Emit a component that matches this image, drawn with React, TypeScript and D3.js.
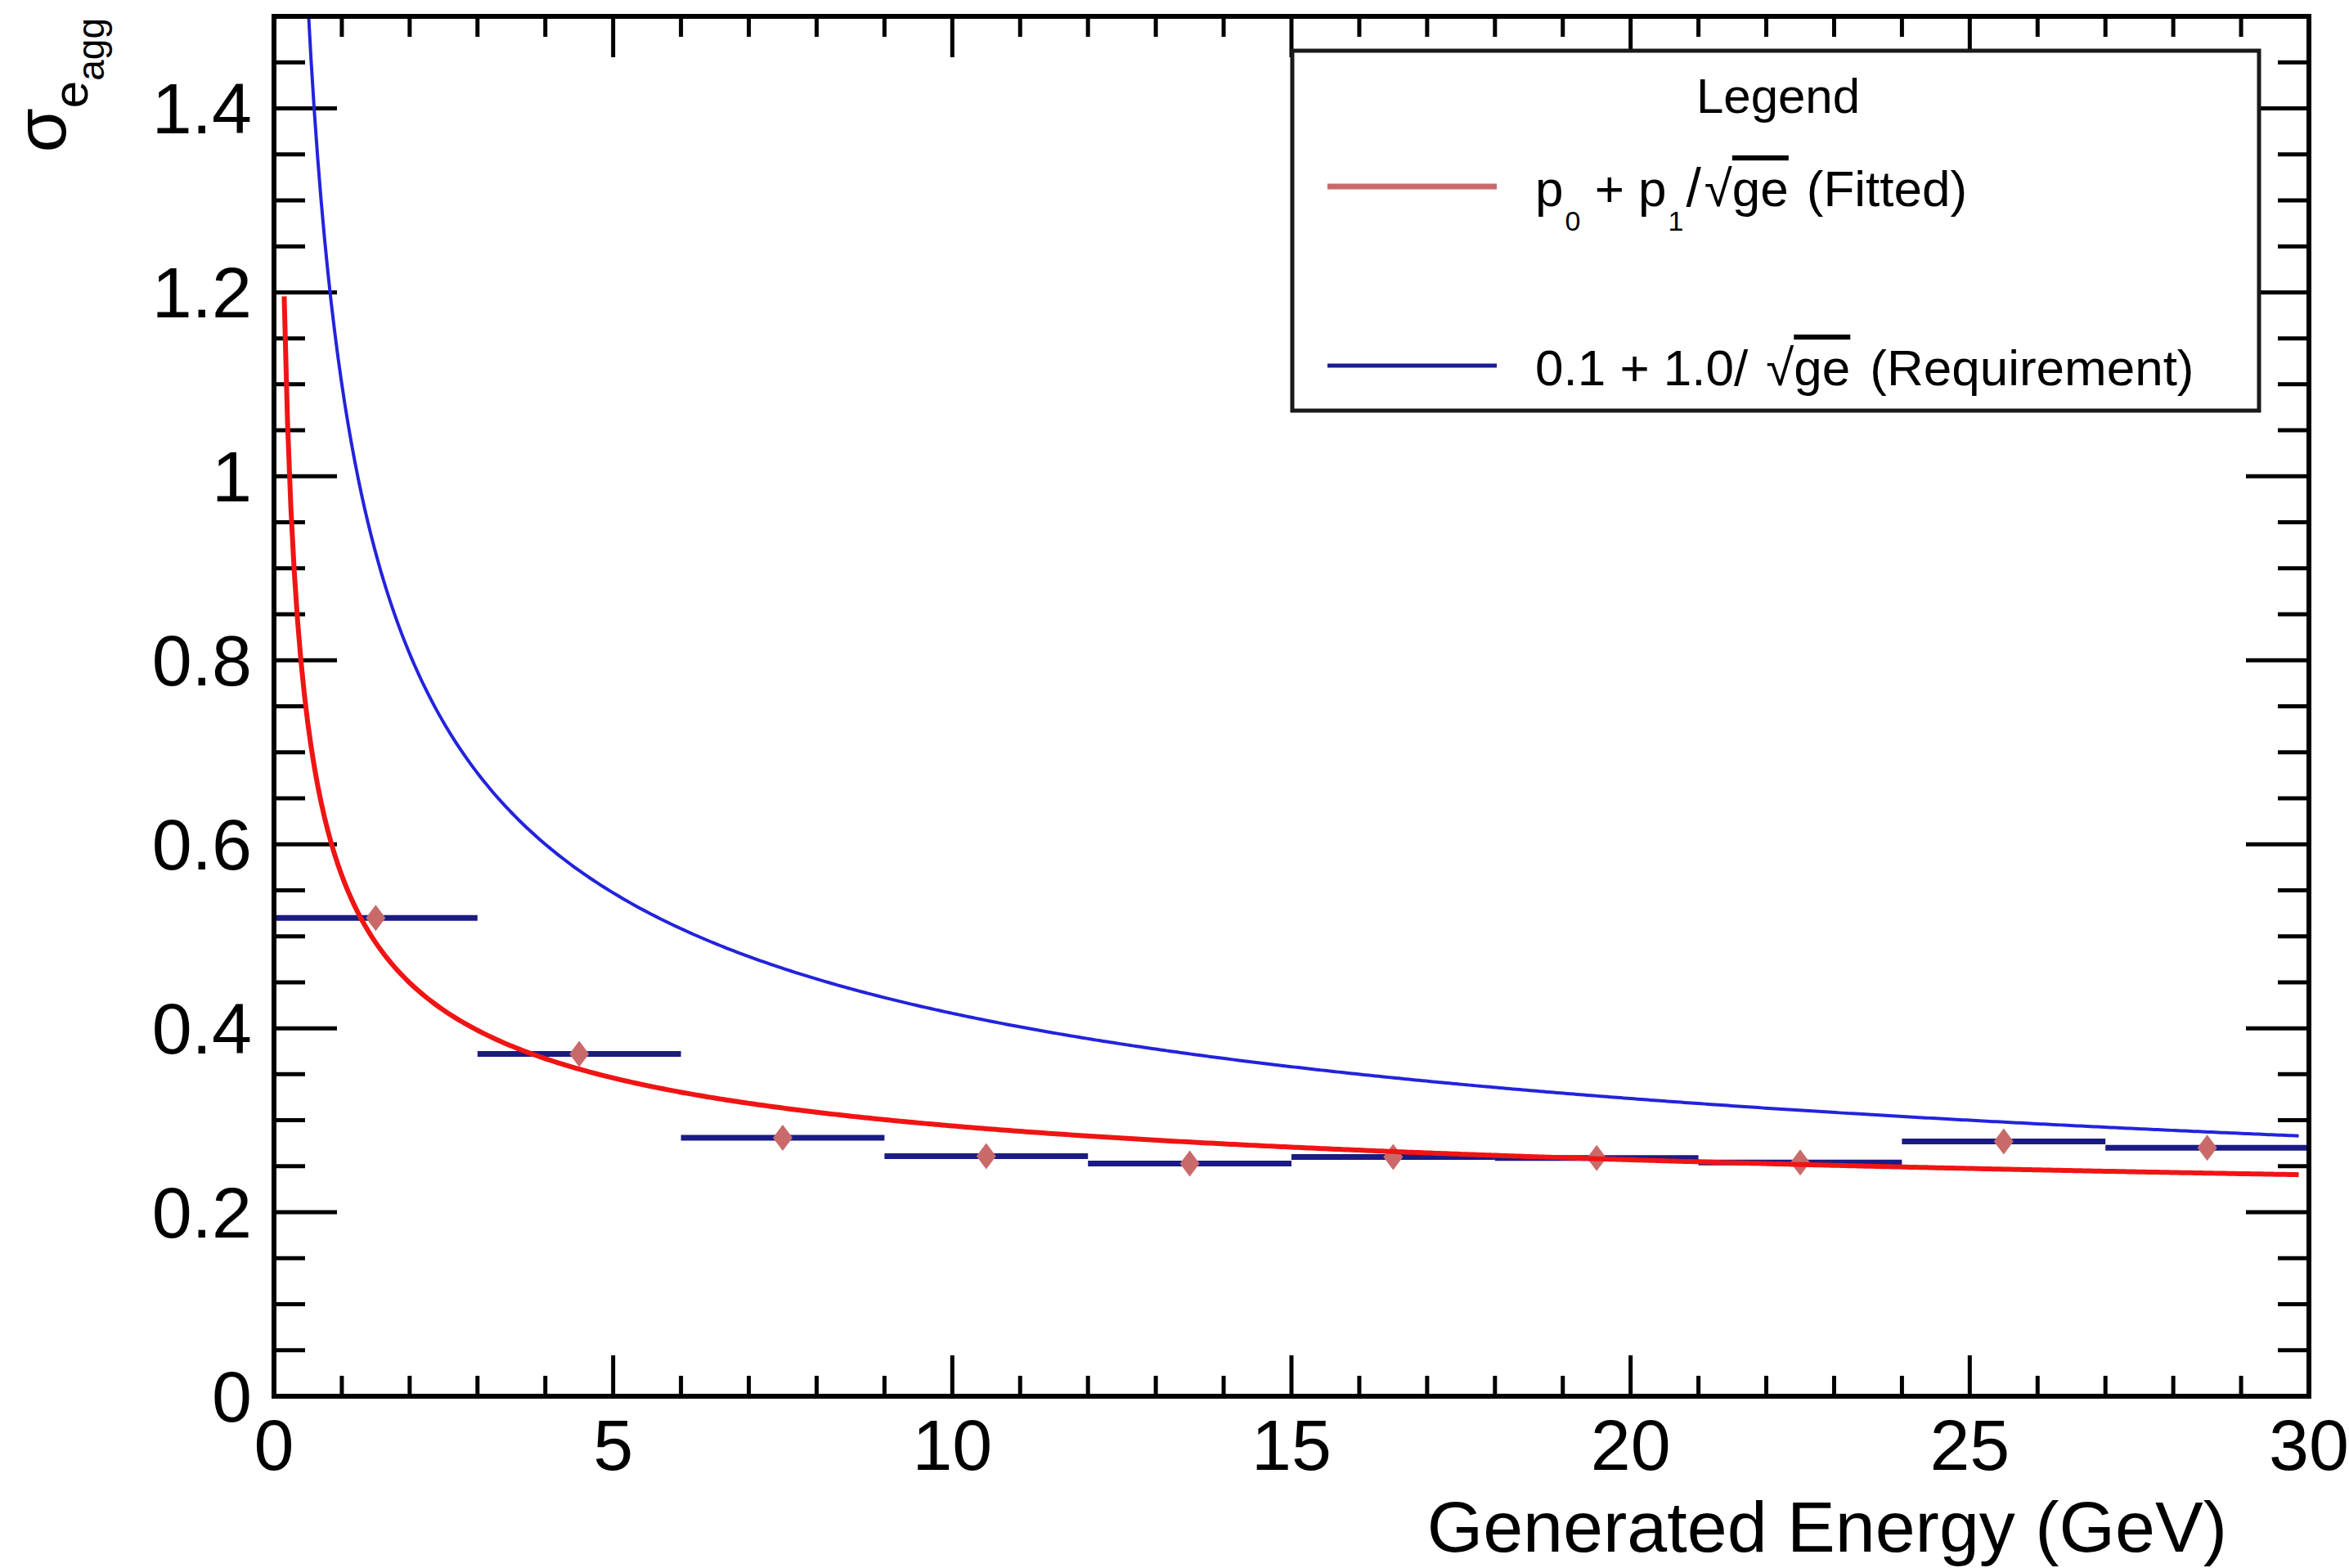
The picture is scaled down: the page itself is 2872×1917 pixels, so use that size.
import * as d3 from "d3";

// histogram bins (GeV) and measured resolution
const binLow = [0, 3, 6, 9, 12, 15, 18, 21, 24, 27];
const binHigh = [3, 6, 9, 12, 15, 18, 21, 24, 27, 30];
const sigmaValues = [0.52, 0.372, 0.281, 0.261, 0.253, 0.26, 0.259, 0.254, 0.277, 0.27];

const xTickLabels = ["0", "5", "10", "15", "20", "25", "30"];
const yTickLabels = ["0", "0.2", "0.4", "0.6", "0.8", "1", "1.2", "1.4"];

// p0 + p1/sqrt(ge)
const fitParams = [0.168, 0.398];
const reqParams = [0.1, 1.0];
const curveRange = [0.15, 29.85];

const W = 2872;
const H = 1917;
const FONT = "'Liberation Sans', Arial, Helvetica, sans-serif";

const x = d3.scaleLinear().domain([0, 30]).range([335, 2823]);
const y = d3.scaleLinear().domain([0, 1.5]).range([1707, 20]);

const [x0, x1] = x.range();
const [y0, y1] = y.range();

const sampleXs = d3.range(0, 601).map((i) => curveRange[0] + ((curveRange[1] - curveRange[0]) * i) / 600);
const curve = (p: number[]) =>
	d3
		.line<number>()
		.x((d) => x(d))
		.y((d) => y(p[0] + p[1] / Math.sqrt(d)))(sampleXs) || "";

const App = () => {
	const minorX = x.ticks(30);
	const minorY = y.ticks(30);
	const majorYLen = 77;
	const minorYLen = 38;
	const majorXLen = 50;
	const minorXLen = 25;
	const isMajorX = (v: number) => Math.abs(v % 5) < 1e-6;
	const isMajorY = (v: number) => Math.abs(Math.round(v * 100) % 20) < 1e-6;

	return (
		<svg
			width={W}
			height={H}
			style={{position: "absolute", left: 0, top: 0, background: "#fff", display: "block"}}
			fontFamily={FONT}
		>
			<defs>
				<clipPath id="plotClip">
					<rect x={x0} y={y1} width={x1 - x0} height={y0 - y1} />
				</clipPath>
			</defs>
			<rect width={W} height={H} fill="#fff" />

			{/* ticks: bottom/top and left/right */}
			<g stroke="#000" strokeWidth={5}>
				{minorX.map((v) => {
					const len = isMajorX(v) ? majorXLen : minorXLen;
					return (
						<g key={"xt" + v}>
							<line x1={x(v)} x2={x(v)} y1={y0} y2={y0 - len} />
							<line x1={x(v)} x2={x(v)} y1={y1} y2={y1 + len} />
						</g>
					);
				})}
				{minorY.map((v) => {
					const len = isMajorY(v) ? majorYLen : minorYLen;
					return (
						<g key={"yt" + v}>
							<line x1={x0} x2={x0 + len} y1={y(v)} y2={y(v)} />
							<line x1={x1} x2={x1 - len} y1={y(v)} y2={y(v)} />
						</g>
					);
				})}
			</g>

			{/* histogram points: x error bars + diamonds */}
			<g stroke="#1b1b85" strokeWidth={7}>
				{sigmaValues.map((v, i) => (
					<line key={"eb" + i} x1={x(binLow[i])} x2={x(binHigh[i])} y1={y(v)} y2={y(v)} />
				))}
			</g>
			<g fill="#c96a6a">
				{sigmaValues.map((v, i) => {
					const cx = x((binLow[i] + binHigh[i]) / 2);
					const cy = y(v);
					return (
						<path
							key={"mk" + i}
							d={`M${cx},${cy - 16}L${cx + 12},${cy}L${cx},${cy + 16}L${cx - 12},${cy}Z`}
						/>
					);
				})}
			</g>

			{/* fitted and requirement curves */}
			<g clipPath="url(#plotClip)" fill="none">
				<path d={curve(fitParams)} stroke="#f01414" strokeWidth={6} />
				<path d={curve(reqParams)} stroke="#2323dc" strokeWidth={4} />
			</g>

			{/* frame */}
			<rect x={x0} y={y1} width={x1 - x0} height={y0 - y1} fill="none" stroke="#000" strokeWidth={6} />

			{/* tick labels */}
			<g fontSize={88} fill="#000">
				{yTickLabels.map((t) => (
					<text key={"yl" + t} x={x0 - 27} y={y(+t)} dy="0.35em" textAnchor="end">
						{t}
					</text>
				))}
				{xTickLabels.map((t) => (
					<text key={"xl" + t} x={x(+t)} y={1797} textAnchor="middle">
						{t}
					</text>
				))}
			</g>

			{/* axis titles */}
			<text x={2723} y={1897} fontSize={88} textAnchor="end">
				Generated Energy (GeV)
			</text>
			<text transform="translate(80,22) rotate(-90)" fontSize={88} textAnchor="end">
				σ
				<tspan fontSize={60} dy={27}>
					e
				</tspan>
				<tspan fontSize={46} dy={20}>
					agg
				</tspan>
			</text>

			{/* legend */}
			<g>
				<rect x={1580} y={62} width={1182} height={440} fill="#fff" stroke="#1a1a1a" strokeWidth={5} />
				<text x={2174} y={138} fontSize={60} textAnchor="middle">
					Legend
				</text>
				<line x1={1623} x2={1830} y1={228} y2={228} stroke="#c96a6a" strokeWidth={7} />
				<text x={1877} y={252} fontSize={62}>
					p
					<tspan fontSize={34} dy={30} dx={2}>
						0
					</tspan>
					<tspan dy={-30}>{" + p"}</tspan>
					<tspan fontSize={34} dy={30} dx={2}>
						1
					</tspan>
					<tspan dy={-30} dx={3} fontSize={66}>
						/
					</tspan>
					<tspan dx={4}>√</tspan>
					<tspan style={{textDecoration: "overline"}}>ge</tspan>
					<tspan dx={22}>(Fitted)</tspan>
				</text>
				<line x1={1623} x2={1830} y1={447} y2={447} stroke="#1b1b95" strokeWidth={5} />
				<text x={1877} y={471} fontSize={62}>
					{"0.1 + 1.0/"}
					<tspan dx={22}>√</tspan>
					<tspan style={{textDecoration: "overline"}}>ge</tspan>
					<tspan dx={24}>(Requirement)</tspan>
				</text>
			</g>
		</svg>
	);
};

export default App;
